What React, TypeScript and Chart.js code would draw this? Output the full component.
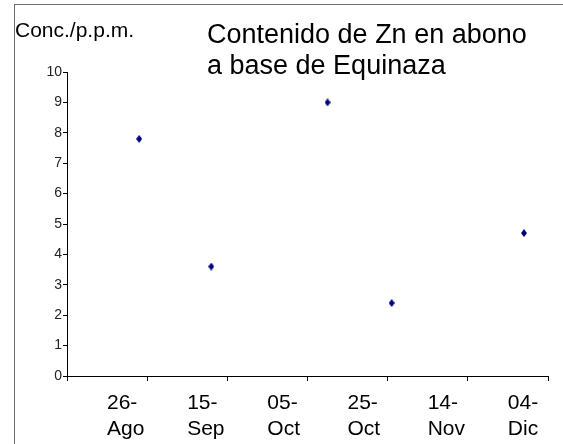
import React, { useEffect, useRef } from 'react';
import { Chart, registerables } from 'chart.js';

Chart.register(...registerables);

const FONT = "Arial, 'Liberation Sans', sans-serif";

const MONTHS: Record<string, number> = {
  Ene: 0, Feb: 1, Mar: 2, Abr: 3, May: 4, Jun: 5,
  Jul: 6, Ago: 7, Sep: 8, Oct: 9, Nov: 10, Dic: 11,
};

// Chart text
const titleLines = ['Contenido de Zn en abono', 'a base de Equinaza'];
const yAxisLabel = 'Conc./p.p.m.';

// Date axis: starts at the first label, one label every 20 days
const axisStart = '26-Ago';
const tickStepDays = 20;
const tickLabels = ['26-Ago', '15-Sep', '05-Oct', '25-Oct', '14-Nov', '04-Dic'];

// Sampling dates and Zn concentration (p.p.m.)
const sampleDates = ['13-Sep', '01-Oct', '30-Oct', '15-Nov', '18-Dic'];
const znValues = [7.8, 3.6, 9.0, 2.4, 4.7];

const yMin = 0;
const yMax = 10;
const yStep = 1;

function dayNumber(label: string): number {
  const [d, m] = label.split('-');
  return Math.round((Date.UTC(2003, MONTHS[m], Number(d)) - Date.UTC(2003, 0, 1)) / 86400000);
}

function makeDiamond(w: number, h: number, color: string): HTMLCanvasElement {
  const c = document.createElement('canvas');
  c.width = w;
  c.height = h;
  const ctx = c.getContext('2d')!;
  ctx.fillStyle = color;
  ctx.beginPath();
  ctx.moveTo(w / 2, 0);
  ctx.lineTo(w, h / 2);
  ctx.lineTo(w / 2, h);
  ctx.lineTo(0, h / 2);
  ctx.closePath();
  ctx.fill();
  return c;
}

const headerText = {
  id: 'headerText',
  afterDraw(chart: Chart) {
    const ctx = chart.ctx;
    ctx.save();
    ctx.fillStyle = '#000';
    ctx.textAlign = 'left';
    ctx.textBaseline = 'alphabetic';
    ctx.font = `21px ${FONT}`;
    ctx.fillText(yAxisLabel, 15, 37);
    ctx.font = `27px ${FONT}`;
    titleLines.forEach((line, i) => ctx.fillText(line, 207, 43 + i * 31));
    ctx.restore();
  },
};

export default function App() {
  const canvasRef = useRef<HTMLCanvasElement | null>(null);

  useEffect(() => {
    if (!canvasRef.current) return;
    const start = dayNumber(axisStart);
    const points = sampleDates.map((d, i) => ({ x: dayNumber(d) - start, y: znValues[i] }));
    const xMax = tickLabels.length * tickStepDays;

    const chart = new Chart(canvasRef.current, {
      type: 'scatter',
      data: {
        datasets: [
          {
            label: 'Zn',
            data: points,
            pointStyle: makeDiamond(6, 8, '#000080'),
            pointRadius: 4,
            showLine: false,
          },
        ],
      },
      options: {
        responsive: false,
        animation: false,
        layout: { padding: { left: 0, right: 15, top: 72, bottom: 0 } },
        plugins: {
          legend: { display: false },
          tooltip: { enabled: false },
          title: { display: false },
        },
        scales: {
          x: {
            type: 'linear',
            min: 0,
            max: xMax,
            afterFit: (s: any) => { s.height = 68; },
            border: { display: true, color: '#000', width: 1 },
            grid: { drawOnChartArea: false, drawTicks: true, tickLength: 5, color: '#000', lineWidth: 1 },
            ticks: {
              stepSize: tickStepDays,
              autoSkip: false,
              maxRotation: 0,
              align: 'start',
              labelOffset: 40,
              padding: 10,
              color: '#000',
              font: { family: FONT, size: 21 },
              callback: (_v: any, index: number) => {
                const lbl = tickLabels[index];
                return lbl ? [lbl.slice(0, lbl.indexOf('-') + 1), lbl.slice(lbl.indexOf('-') + 1)] : '';
              },
            },
          },
          y: {
            min: yMin,
            max: yMax,
            afterFit: (s: any) => { s.width = 67; },
            border: { display: true, color: '#000', width: 1 },
            grid: { drawOnChartArea: false, drawTicks: true, tickLength: 4, color: '#000', lineWidth: 1 },
            ticks: {
              stepSize: yStep,
              padding: 1,
              color: '#222',
              font: { family: FONT, size: 14 },
            },
          },
        },
      },
      plugins: [headerText],
    });
    return () => chart.destroy();
  }, []);

  return (
    <div style={{ position: 'fixed', left: 0, top: 0, width: 563, height: 444, background: '#fff', overflow: 'hidden' }}>
      <div
        style={{
          position: 'absolute', left: 14, top: 4, width: 600, height: 500,
          borderLeft: '1px solid #6e6e6e', borderTop: '1px solid #6e6e6e',
        }}
      />
      <canvas ref={canvasRef} width={563} height={444} style={{ position: 'absolute', left: 0, top: 0, width: 563, height: 444 }} />
    </div>
  );
}
